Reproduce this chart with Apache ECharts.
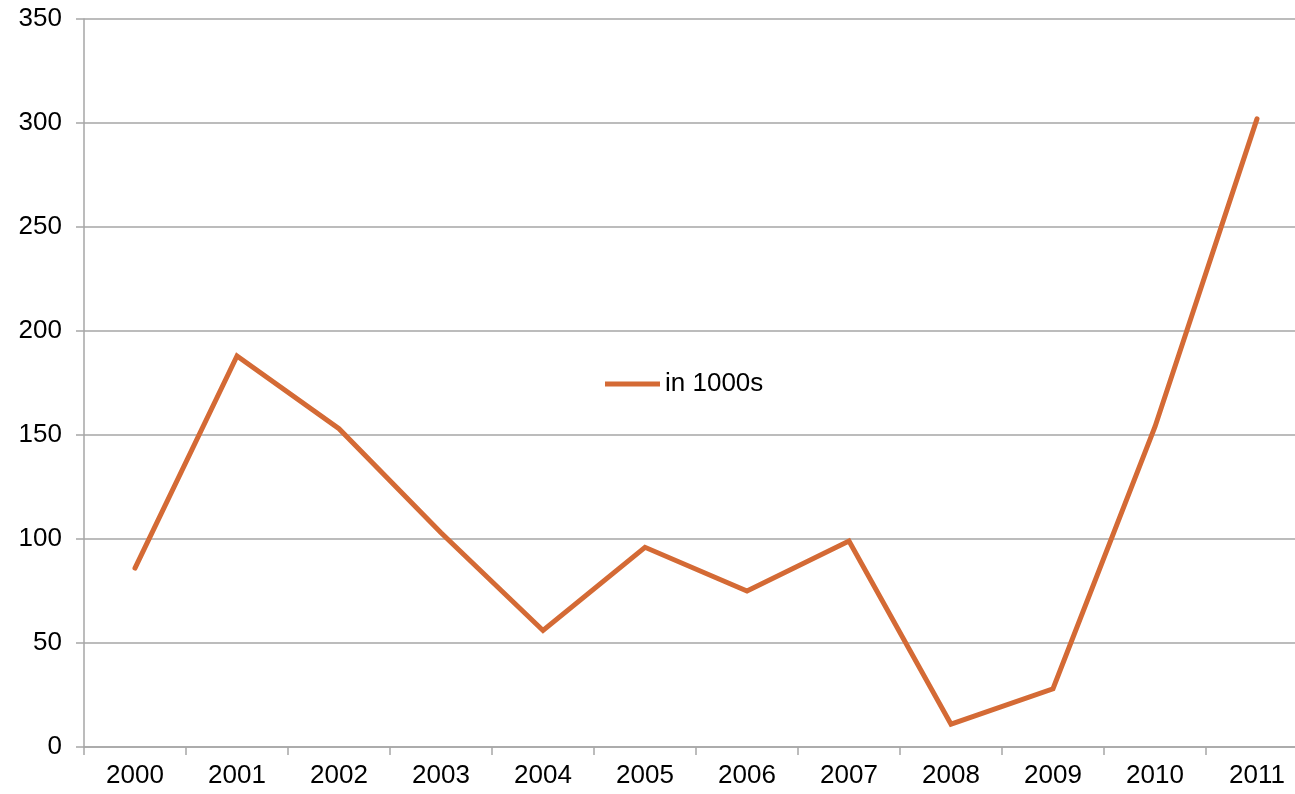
<!DOCTYPE html>
<html>
<head>
<meta charset="utf-8">
<script src="https://cdn.jsdelivr.net/npm/echarts@6/dist/echarts.min.js"></script>
<style>
  html, body { margin: 0; padding: 0; background: #fff; overflow: hidden; }
  #chart { width: 1310px; height: 794px; }
</style>
</head>
<body>
<div id="chart"></div>
<script>
// Yearly figures, in thousands
const years = ['2000', '2001', '2002', '2003', '2004', '2005', '2006', '2007', '2008', '2009', '2010', '2011'];
const valuesIn1000s = [86, 188, 153, 103, 56, 96, 75, 99, 11, 28, 154, 302];
const seriesName = 'in 1000s';

const font = 'Liberation Sans, Arial, sans-serif';
const gridColor = '#a6a6a6';

const chart = echarts.init(document.getElementById('chart'), null, { renderer: 'canvas' });
chart.setOption({
  backgroundColor: '#ffffff',
  animation: false,
  grid: { left: 84, top: 19, right: 2, height: 728, containLabel: false },
  legend: {
    left: 600, top: 366,
    itemWidth: 55, itemHeight: 14, itemGap: 0,
    icon: 'path://M0,0 L56,0 L56,5 L0,5 Z',
    textStyle: { fontFamily: font, fontSize: 26, color: '#000', padding: [2, 0, 0, 0] },
    data: [{ name: seriesName, itemStyle: { color: '#d46a35' } }]
  },
  xAxis: {
    type: 'category',
    data: years,
    boundaryGap: true,
    axisLine: { lineStyle: { color: gridColor, width: 1.5 } },
    axisTick: { show: true, length: 8, lineStyle: { color: gridColor, width: 1.5 } },
    axisLabel: { fontFamily: font, fontSize: 26, color: '#000', margin: 16 }
  },
  yAxis: {
    type: 'value',
    min: 0, max: 350, interval: 50,
    axisLine: { show: true, lineStyle: { color: gridColor, width: 1.5 } },
    axisTick: { show: true, length: 8, lineStyle: { color: gridColor, width: 1.5 } },
    axisLabel: { fontFamily: font, fontSize: 26, color: '#000', margin: 22 },
    splitLine: { lineStyle: { color: gridColor, width: 1.5 } }
  },
  series: [{
    name: seriesName,
    type: 'line',
    data: valuesIn1000s,
    symbol: 'none',
    lineStyle: { color: '#d46a35', width: 5, cap: 'round', join: 'miter' },
    itemStyle: { color: '#d46a35' }
  }]
});
</script>
</body>
</html>
